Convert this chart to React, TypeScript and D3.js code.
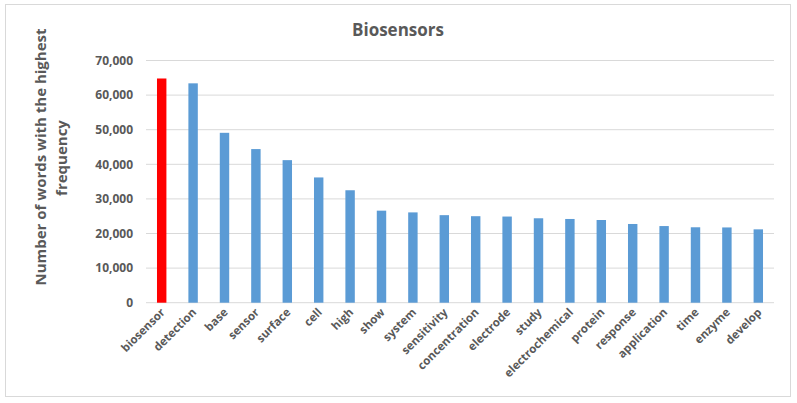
import React from "react";
import * as d3 from "d3";

const categories = ["biosensor","detection","base","sensor","surface","cell","high","show","system","sensitivity","concentration","electrode","study","electrochemical","protein","response","application","time","enzyme","develop"];
const values = [64800,63400,49100,44400,41200,36200,32500,26600,26100,25300,25000,24900,24400,24200,23900,22750,22150,21800,21750,21200];
const yTicks = [0,10000,20000,30000,40000,50000,60000,70000];
const title = "Biosensors";
const yLabel1 = "Number of words with the highest";
const yLabel2 = "frequency";

const W = 797, H = 403;
const left = 146, right = 774, top = 60.5, bottom = 302.7;
const font = "'Open Sans', sans-serif";
const textColor = "#595959";

export default function App() {
  const x = d3.scaleBand<string>().domain(categories).range([left, right]).paddingInner(0.7).paddingOuter(0.35);
  const y = d3.scaleLinear().domain([0, 70000]).range([bottom, top]);
  const fmt = d3.format(",");
  return (
    <svg width={W} height={H} style={{ position: "absolute", left: 0, top: 0 }}>
      <rect x={0} y={0} width={W} height={H} fill="#fff" />
      <rect x={5.5} y={4.5} width={785} height={392} fill="#fff" stroke="#D9D9D9" strokeWidth={1} />
      <text x={398} y={36} textAnchor="middle" fontFamily={font} fontWeight="bold" fontSize={17} fill={textColor}>{title}</text>
      {yTicks.map((t) => (
        <g key={t}>
          <line x1={left} x2={right} y1={y(t)} y2={y(t)} stroke="#D9D9D9" strokeWidth={1} />
          <text x={133} y={y(t)} dy="0.35em" textAnchor="end" fontFamily={font} fontWeight="bold" fontSize={12} fill={textColor}>{fmt(t)}</text>
        </g>
      ))}
      {categories.map((c, i) => (
        <rect key={c} x={x(c)} y={y(values[i])} width={x.bandwidth()} height={bottom - y(values[i])} fill={i === 0 ? "#FF0000" : "#5B9BD5"} />
      ))}
      {categories.map((c) => {
        const cx = (x(c) as number) + x.bandwidth() / 2 + 4;
        const cy = 313;
        return (
          <text key={c} x={cx} y={cy} textAnchor="end" transform={`rotate(-45 ${cx} ${cy})`} fontFamily={font} fontWeight="bold" fontSize={11.5} fill={textColor}>{c}</text>
        );
      })}
      <text transform="translate(46,157) rotate(-90)" textAnchor="middle" fontFamily={font} fontWeight="bold" fontSize={15} fill={textColor}>{yLabel1}</text>
      <text transform="translate(67,158) rotate(-90)" textAnchor="middle" fontFamily={font} fontWeight="bold" fontSize={15} fill={textColor}>{yLabel2}</text>
    </svg>
  );
}
